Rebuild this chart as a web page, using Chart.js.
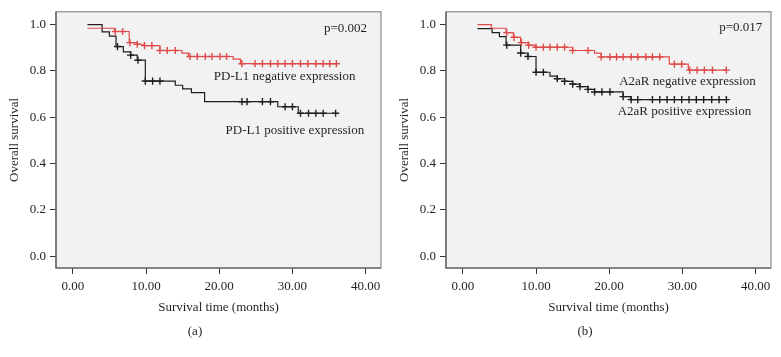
<!DOCTYPE html>
<html><head><meta charset="utf-8">
<script src="https://cdn.jsdelivr.net/npm/chart.js@4.4.0/dist/chart.umd.min.js"></script>
<style>
html,body{margin:0;padding:0;background:#fff;}
#wrap{position:relative;width:781px;height:357px;overflow:hidden;background:#fff;}
.panel{position:absolute;top:0;height:357px;}
.cap{position:absolute;font-family:"Liberation Serif",serif;font-size:13px;color:#231f20;transform:translate(-50%,-50%);white-space:nowrap;}
</style></head><body>
<div id="wrap">
<div class="panel" style="left:0;width:390px"><canvas id="c1" width="390" height="357"></canvas></div>
<div class="panel" style="left:390px;width:391px"><canvas id="c2" width="391" height="357"></canvas></div>
<div class="cap" style="left:195px;top:331px">(a)</div>
<div class="cap" style="left:585px;top:331px">(b)</div>
</div>
<script>
// ---- tick labels ----
const xTicks = [0, 10, 20, 30, 40];
const yTicks = [0, 0.2, 0.4, 0.6, 0.8, 1.0];

// ---- Panel (a): PD-L1 ----
const aNegTime = [2, 5.7, 7.7, 8.8, 9.8, 11.9, 14.9, 15.8, 21.9, 22.9, 36];
const aNegSurv = [0.984, 0.970, 0.922, 0.915, 0.909, 0.888, 0.877, 0.862, 0.851, 0.831, 0.831];
const aNegCens = [5.8, 6.8, 7.8, 8.8, 9.8, 10.8, 11.9, 12.9, 14.0, 16.0, 17.0, 18.1, 19.0, 20.1, 21.0,
                  23.1, 24.9, 25.9, 27.0, 28.0, 29.0, 30.0, 31.1, 32.1, 33.2, 34.2, 35.1, 36.0];
const aPosTime = [2, 4.0, 5.0, 5.9, 6.9, 7.9, 8.8, 9.9, 14.0, 15.0, 16.2, 18.0, 28.0, 30.8, 36];
const aPosSurv = [1.0, 0.968, 0.950, 0.905, 0.882, 0.868, 0.846, 0.756, 0.738, 0.722, 0.706, 0.667, 0.645, 0.617, 0.617];
const aPosCens = [6.1, 7.9, 8.9, 9.9, 10.9, 11.9, 23.1, 23.8, 25.9, 27.0, 29.0, 30.0, 31.1, 32.2, 33.2, 34.2, 35.9];
const aLabels = ["PD-L1 negative expression", "PD-L1 positive expression", "p=0.002"];

// ---- Panel (b): A2aR ----
const bNegTime = [2, 3.9, 5.9, 6.9, 7.9, 8.9, 9.9, 15.0, 18.0, 18.9, 28.2, 30.8, 36];
const bNegSurv = [1.0, 0.984, 0.965, 0.945, 0.922, 0.911, 0.902, 0.888, 0.877, 0.860, 0.829, 0.803, 0.803];
const bNegCens = [6.0, 7.0, 8.0, 9.0, 10.0, 11.0, 11.9, 12.9, 13.9, 15.0, 17.1, 18.9, 20.1, 21.0, 21.9, 23.0,
                  23.9, 25.0, 25.9, 26.9, 28.9, 29.9, 31.0, 32.0, 33.0, 34.1, 36.0];
const bPosTime = [2, 4.0, 5.0, 5.9, 7.9, 8.9, 10.0, 11.9, 12.9, 13.9, 15.0, 16.0, 17.1, 18.0, 21.9, 22.9, 36];
const bPosSurv = [0.982, 0.965, 0.948, 0.911, 0.877, 0.862, 0.794, 0.777, 0.766, 0.755, 0.743, 0.732, 0.720, 0.709, 0.689, 0.676, 0.676];
const bPosCens = [6.0, 7.9, 8.9, 10.0, 11.0, 12.9, 13.9, 15.0, 16.0, 17.1, 18.0, 19.0, 20.1, 21.9, 23.0, 23.9,
                  25.9, 26.9, 27.9, 28.9, 29.9, 30.9, 31.9, 32.9, 34.0, 35.0, 36.0];
const bLabels = ["A2aR negative expression", "A2aR positive expression", "p=0.017"];

const RED = '#de4b4b';
const BLK = '#1e1e1e';
const FONT = '"Liberation Serif", "DejaVu Serif", serif';
const TXT = '#231f20';

function survAt(times, surv, t) {
  let v = surv[0];
  for (let i = 0; i < times.length; i++) if (times[i] <= t + 1e-9) v = surv[i];
  return v;
}
function curve(times, surv) { return times.map((t, i) => ({x: t, y: surv[i]})); }
function cens(times, surv, c) { return c.map(t => ({x: t, y: survAt(times, surv, t)})); }

function stepDs(times, surv, color) {
  return {type: 'line', data: curve(times, surv), stepped: true, borderColor: color,
          borderWidth: 1.2, pointRadius: 0, fill: false, tension: 0};
}
function censDs(times, surv, c, color) {
  return {type: 'scatter', data: cens(times, surv, c), pointStyle: 'cross', pointRadius: 3.6,
          borderColor: color, backgroundColor: color, borderWidth: 1.4, showLine: false};
}

const framePlugin = {
  id: 'frame',
  beforeDatasetsDraw(chart) {
    const {ctx, chartArea: a} = chart;
    ctx.save();
    ctx.fillStyle = '#f2f2f2';
    ctx.fillRect(a.left, a.top, a.right - a.left, a.bottom - a.top);
    ctx.restore();
  },
  afterDatasetsDraw(chart) {
    const {ctx, chartArea: a} = chart;
    ctx.save();
    ctx.strokeStyle = '#8a8a8a';
    ctx.lineWidth = 1.2;
    ctx.strokeRect(a.left, a.top, a.right - a.left, a.bottom - a.top);
    ctx.strokeStyle = '#555';
    ctx.beginPath();
    ctx.moveTo(a.left, a.top); ctx.lineTo(a.left, a.bottom); ctx.lineTo(a.right, a.bottom);
    ctx.stroke();
    const items = chart.options.plugins.notes.items;
    ctx.font = '13px ' + FONT;
    ctx.fillStyle = TXT;
    ctx.textAlign = 'right';
    ctx.textBaseline = 'middle';
    items.forEach(n => {
      ctx.fillText(n.text, chart.scales.x.getPixelForValue(n.x), chart.scales.y.getPixelForValue(n.y));
    });
    ctx.restore();
  }
};

function makeChart(id, datasets, notes, padRight) {
  return new Chart(document.getElementById(id), {
    data: {datasets},
    plugins: [framePlugin],
    options: {
      responsive: false, animation: false, events: [],
      layout: {padding: {left: 0, right: padRight, top: 8, bottom: 0}},
      plugins: {legend: {display: false}, tooltip: {enabled: false}, notes: {items: notes}},
      scales: {
        x: {
          type: 'linear', min: -2.3, max: 42.1,
          afterBuildTicks: s => { s.ticks = xTicks.map(v => ({value: v})); },
          afterFit: s => { s.height = 89; },
          border: {display: false},
          grid: {drawOnChartArea: false, drawTicks: true, tickLength: 6, color: '#333', lineWidth: 1},
          ticks: {callback: v => Number(v).toFixed(2), font: {family: FONT, size: 13}, color: TXT,
                  padding: 5, maxRotation: 0, autoSkip: false},
          title: {display: true, text: 'Survival time (months)', font: {family: FONT, size: 13},
                  color: TXT, padding: {top: 0, bottom: 42}}
        },
        y: {
          type: 'linear', min: -0.051, max: 1.055,
          afterBuildTicks: s => { s.ticks = yTicks.map(v => ({value: v})); },
          afterFit: s => { s.width = 56; },
          border: {display: false},
          grid: {drawOnChartArea: false, drawTicks: true, tickLength: 6, color: '#333', lineWidth: 1},
          ticks: {callback: v => Number(v).toFixed(1), font: {family: FONT, size: 13}, color: TXT, padding: 4},
          title: {display: true, text: 'Overall survival', font: {family: FONT, size: 13},
                  color: TXT, padding: {top: 7, bottom: 0}}
        }
      }
    }
  });
}

makeChart('c1', [
  stepDs(aNegTime, aNegSurv, RED), censDs(aNegTime, aNegSurv, aNegCens, RED),
  stepDs(aPosTime, aPosSurv, BLK), censDs(aPosTime, aPosSurv, aPosCens, BLK)
], [
  {text: aLabels[0], x: 38.6, y: 0.777},
  {text: aLabels[1], x: 39.8, y: 0.543},
  {text: aLabels[2], x: 40.2, y: 0.983}
], 9);

makeChart('c2', [
  stepDs(bNegTime, bNegSurv, RED), censDs(bNegTime, bNegSurv, bNegCens, RED),
  stepDs(bPosTime, bPosSurv, BLK), censDs(bPosTime, bPosSurv, bPosCens, BLK)
], [
  {text: bLabels[0], x: 40.0, y: 0.753},
  {text: bLabels[1], x: 39.4, y: 0.626},
  {text: bLabels[2], x: 40.9, y: 0.987}
], 10);
</script>
</body></html>
